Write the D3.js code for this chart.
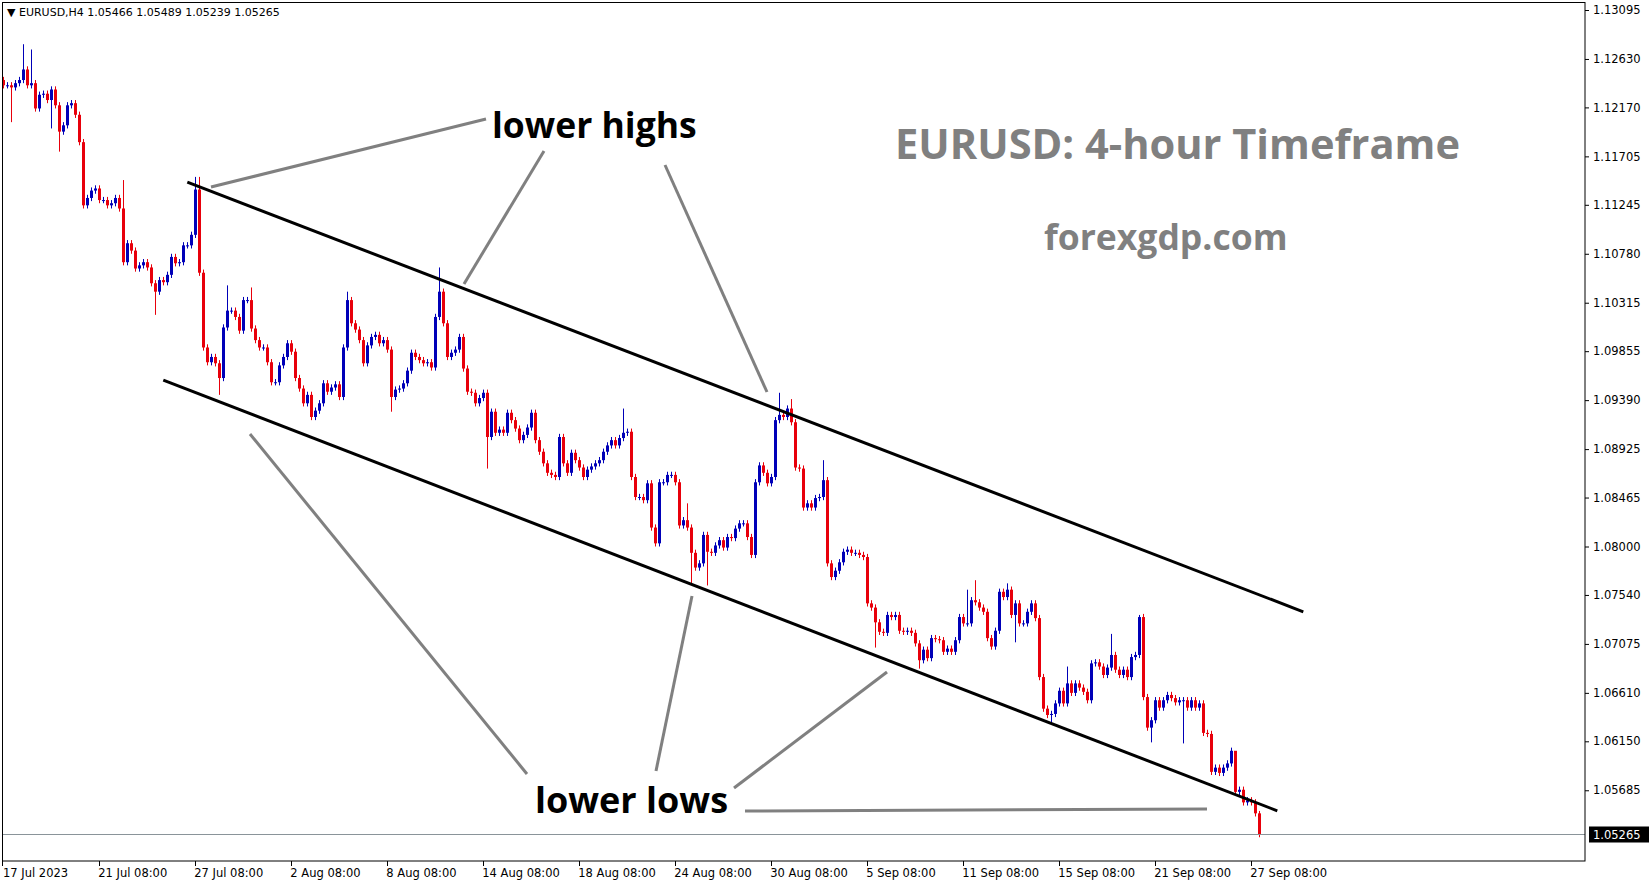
<!DOCTYPE html>
<html>
<head>
<meta charset="utf-8">
<script src="https://cdn.jsdelivr.net/npm/d3@7"></script>
<style>
  body { margin: 0; background: #fff; }
  svg { display: block; }
  .axis text { font-family: "DejaVu Sans", sans-serif; font-size: 11.5px; fill: #000; }
  .axis line { stroke: #000; }
</style>
</head>
<body>
<svg id="chart" width="1649" height="884"></svg>
<script>
// H4 closes, 17 Jul 08:00 .. 27 Sep 16:00 (open = previous close)
const closes = [
  1.1238, 1.1238, 1.1236, 1.1240, 1.1243, 1.1253, 1.1238, 1.1240, 1.1216, 1.1229,
  1.1230, 1.1224, 1.1234, 1.1219, 1.1194, 1.1200, 1.1219, 1.1221, 1.1210, 1.1184,
  1.1124, 1.1131, 1.1138, 1.1140, 1.1129, 1.1129, 1.1124, 1.1126, 1.1131, 1.1121,
  1.1070, 1.1088, 1.1081, 1.1064, 1.1067, 1.1070, 1.1065, 1.1050, 1.1042, 1.1053,
  1.1051, 1.1058, 1.1075, 1.1069, 1.1070, 1.1086, 1.1086, 1.1096, 1.1139, 1.1060,
  1.0989, 1.0975, 1.0980, 1.0974, 1.0960, 1.1008, 1.1024, 1.1024, 1.1018, 1.1005,
  1.1034, 1.1034, 1.1007, 1.0996, 1.0989, 1.0989, 1.0975, 1.0956, 1.0956, 1.0972,
  1.0980, 1.0993, 1.0985, 1.0960, 1.0950, 1.0936, 1.0944, 1.0923, 1.0929, 1.0936,
  1.0955, 1.0947, 1.0951, 1.0954, 1.0942, 1.0989, 1.1034, 1.1012, 1.1006, 1.0996,
  1.0974, 1.0991, 1.0999, 1.1001, 1.0993, 1.0996, 1.0987, 1.0942, 1.0949, 1.0950,
  1.0955, 1.0967, 1.0984, 1.0980, 1.0977, 1.0974, 1.0975, 1.0970, 1.1018, 1.1042,
  1.1012, 1.0980, 1.0984, 1.0987, 1.0999, 1.0969, 1.0947, 1.0946, 1.0936, 1.0941,
  1.0946, 1.0904, 1.0928, 1.0908, 1.0911, 1.0908, 1.0927, 1.0920, 1.0912, 1.0901,
  1.0906, 1.0913, 1.0927, 1.0901, 1.0890, 1.0879, 1.0870, 1.0868, 1.0866, 1.0904,
  1.0879, 1.0870, 1.0889, 1.0882, 1.0875, 1.0866, 1.0873, 1.0876, 1.0879, 1.0882,
  1.0890, 1.0896, 1.0901, 1.0896, 1.0903, 1.0908, 1.0909, 1.0866, 1.0847, 1.0847,
  1.0844, 1.0860, 1.0818, 1.0803, 1.0861, 1.0861, 1.0868, 1.0868, 1.0861, 1.0820,
  1.0825, 1.0818, 1.0794, 1.0780, 1.0784, 1.0811, 1.0795, 1.0794, 1.0801, 1.0806,
  1.0799, 1.0809, 1.0808, 1.0817, 1.0822, 1.0822, 1.0809, 1.0792, 1.0861, 1.0877,
  1.0870, 1.0860, 1.0866, 1.0920, 1.0925, 1.0923, 1.0931, 1.0918, 1.0875, 1.0874,
  1.0837, 1.0841, 1.0837, 1.0846, 1.0847, 1.0863, 1.0784, 1.0771, 1.0777, 1.0785,
  1.0795, 1.0797, 1.0794, 1.0794, 1.0792, 1.0790, 1.0746, 1.0742, 1.0728, 1.0719,
  1.0718, 1.0735, 1.0733, 1.0735, 1.0720, 1.0719, 1.0720, 1.0718, 1.0708, 1.0692,
  1.0702, 1.0694, 1.0713, 1.0712, 1.0711, 1.0700, 1.0703, 1.0700, 1.0711, 1.0733,
  1.0727, 1.0727, 1.0749, 1.0747, 1.0742, 1.0738, 1.0713, 1.0705, 1.0720, 1.0757,
  1.0752, 1.0759, 1.0735, 1.0746, 1.0727, 1.0727, 1.0738, 1.0746, 1.0732, 1.0676,
  1.0646, 1.0640, 1.0641, 1.0651, 1.0663, 1.0651, 1.0670, 1.0661, 1.0670, 1.0666,
  1.0662, 1.0654, 1.0689, 1.0690, 1.0686, 1.0678, 1.0685, 1.0697, 1.0683, 1.0678,
  1.0683, 1.0676, 1.0695, 1.0697, 1.0733, 1.0657, 1.0628, 1.0635, 1.0654, 1.0647,
  1.0654, 1.0659, 1.0656, 1.0652, 1.0654, 1.0654, 1.0647, 1.0654, 1.0647, 1.0651,
  1.0623, 1.0622, 1.0586, 1.0590, 1.0585, 1.0590, 1.0594, 1.0606, 1.0567, 1.0569,
  1.0557, 1.0559, 1.0557, 1.05466, 1.05265
]
const firstOpen = 1.1243

// notable wick extremes: [index, price]
const highs = [[5, 1.1277], [7, 1.1272], [30, 1.1148], [48, 1.1151], [49, 1.1151], [56, 1.1048],
  [62, 1.1046], [86, 1.1042], [109, 1.1065], [155, 1.0931], [171, 1.0841], [194, 1.0946],
  [197, 1.0940], [205, 1.0882], [241, 1.0759], [243, 1.0768], [251, 1.0765], [266, 1.0686],
  [277, 1.0717], [284, 1.0735], [308, 1.0605], [314, 1.05489]]
const lows = [[2, 1.1203], [12, 1.1197], [14, 1.1175], [38, 1.1020], [54, 1.0944], [97, 1.0928],
  [121, 1.0874], [172, 1.0765], [176, 1.0763], [218, 1.0704], [229, 1.0684], [253, 1.0709],
  [262, 1.0632], [287, 1.0614], [295, 1.0613], [314, 1.05239]]
const wickPad = 0.0003

const yTicks = [1.13095, 1.12630, 1.12170, 1.11705, 1.11245, 1.10780, 1.10315, 1.09855, 1.09390,
  1.08925, 1.08465, 1.08000, 1.07540, 1.07075, 1.06610, 1.06150, 1.05685]
const dateIdx = [24, 48, 72, 96, 120, 144, 168, 192, 216, 240, 264, 288, 312]
const dateLabels = ["21 Jul 08:00", "27 Jul 08:00", "2 Aug 08:00", "8 Aug 08:00", "14 Aug 08:00",
  "18 Aug 08:00", "24 Aug 08:00", "30 Aug 08:00", "5 Sep 08:00", "11 Sep 08:00", "15 Sep 08:00",
  "21 Sep 08:00", "27 Sep 08:00"]

// channel lines as [index, price]
const upperLine = [[46, 1.1146], [325, 1.0738]]
const lowerLine = [[40, 1.0958], [318.5, 1.0549]]

const plotR = 1585, plotB = 861
const svg = d3.select("#chart")

const x = d3.scaleLinear().domain([0, closes.length - 1]).range([3.3, 1259.3])
const y = d3.scaleLinear().domain([1.05265, 1.13095]).range([834.5, 10])

const hiMap = new Map(highs), loMap = new Map(lows)
const candles = closes.map((c, i) => {
  const o = i === 0 ? firstOpen : closes[i - 1]
  return {
    i, o, c,
    h: hiMap.has(i) ? hiMap.get(i) : Math.max(o, c) + wickPad,
    l: loMap.has(i) ? loMap.get(i) : Math.min(o, c) - wickPad
  }
})
candles[314].o = 1.05466

const colorOf = d => d.c >= d.o ? "#0000b8" : "#e8000b"

const g = svg.append("g")
g.selectAll(".wick").data(candles).enter().append("line")
  .attr("x1", d => Math.round(x(d.i)) + 0.5).attr("x2", d => Math.round(x(d.i)) + 0.5)
  .attr("y1", d => y(d.h)).attr("y2", d => y(d.l))
  .attr("stroke", colorOf).attr("stroke-width", 1)
g.selectAll(".body").data(candles).enter().append("rect")
  .attr("x", d => Math.round(x(d.i)) - 1)
  .attr("y", d => y(Math.max(d.o, d.c)))
  .attr("width", 3)
  .attr("height", d => Math.max(1, Math.abs(y(d.o) - y(d.c))))
  .attr("fill", colorOf)

// channel
const lineGen = d3.line().x(d => x(d[0])).y(d => y(d[1]))
;[upperLine, lowerLine].forEach(l => {
  svg.append("path").attr("d", lineGen(l)).attr("stroke", "#000").attr("stroke-width", 3).attr("fill", "none")
})

// annotation pointers
const pointers = [
  [211, 187, 486, 119], [464, 284, 544, 151], [665, 165, 767, 392],
  [250, 434, 527, 774], [656, 771, 692, 596], [734, 788, 887, 672], [745, 811, 1207, 809]
]
svg.selectAll(".ptr").data(pointers).enter().append("line")
  .attr("x1", d => d[0]).attr("y1", d => d[1]).attr("x2", d => d[2]).attr("y2", d => d[3])
  .attr("stroke", "#808080").attr("stroke-width", 3)

const label = (t, x0, y0, size, color) => svg.append("text")
  .attr("x", x0).attr("y", y0).attr("font-family", "'Open Sans', sans-serif")
  .attr("font-weight", "bold").attr("font-size", size).attr("fill", color).text(t)
label("lower highs", 492, 138, 35.5, "#000")
label("lower lows", 535, 813, 36, "#000")
label("EURUSD: 4-hour Timeframe", 895, 159, 41.6, "#808080")
label("forexgdp.com", 1044, 250, 35.5, "#808080")

// current price line
svg.append("line").attr("x1", 2).attr("x2", plotR).attr("y1", y(1.05265)).attr("y2", y(1.05265))
  .attr("stroke", "#8a9499").attr("stroke-width", 1)

// frame
svg.append("rect").attr("x", 2.5).attr("y", 2.5).attr("width", plotR - 2.5).attr("height", plotB - 2.5)
  .attr("fill", "none").attr("stroke", "#000")

// price axis
const yAxis = svg.append("g").attr("class", "axis").attr("transform", `translate(${plotR},0)`)
  .call(d3.axisRight(y).tickValues(yTicks).tickFormat(d3.format(".5f")).tickSize(4).tickPadding(4))
yAxis.select(".domain").remove()
const pl = svg.append("g").attr("transform", `translate(${plotR},${y(1.05265)})`)
pl.append("rect").attr("x", 4).attr("y", -8).attr("width", 60).attr("height", 16).attr("fill", "#000")
pl.append("text").attr("x", 8).attr("y", 4.5).attr("fill", "#fff")
  .attr("font-family", "'DejaVu Sans', sans-serif").attr("font-size", 11.5).text("1.05265")

// time axis
const xAxis = svg.append("g").attr("class", "axis").attr("transform", `translate(0,${plotB})`)
xAxis.selectAll(".tk").data(dateIdx).enter().append("line")
  .attr("x1", d => Math.round(x(d)) + 0.5).attr("x2", d => Math.round(x(d)) + 0.5)
  .attr("y1", 0).attr("y2", 5)
xAxis.selectAll(".lb").data(dateIdx).enter().append("text")
  .attr("x", d => x(d) - 1).attr("y", 16).text((d, k) => dateLabels[k])
xAxis.append("line").attr("x1", 2.5).attr("x2", 2.5).attr("y1", 0).attr("y2", 5)
xAxis.append("text").attr("x", 3).attr("y", 16).text("17 Jul 2023")

// header
svg.append("text").attr("x", 7).attr("y", 16).attr("font-family", "'DejaVu Sans', sans-serif")
  .attr("font-size", 11).text("\u25BC EURUSD,H4  1.05466 1.05489 1.05239 1.05265")
</script>
</body>
</html>
